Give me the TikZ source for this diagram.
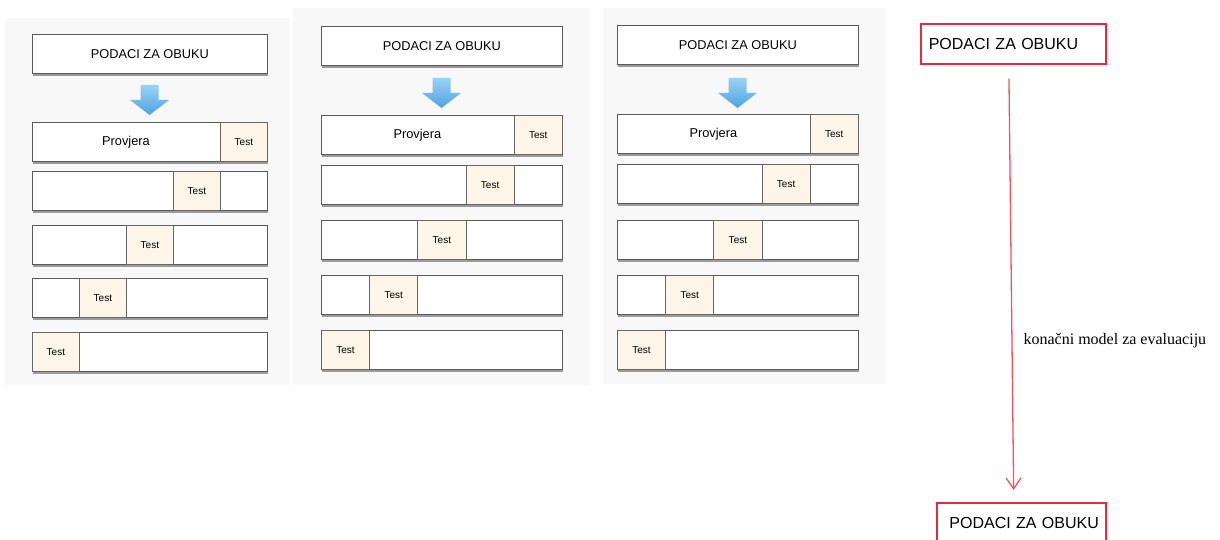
\documentclass[tikz,border=0pt]{standalone}
\usepackage{fontspec}
\setmainfont{Liberation Serif}
\setsansfont{Liberation Sans}
\usetikzlibrary{shadows,arrows.meta,positioning}

\definecolor{testcream}{HTML}{FDF6E8}
\definecolor{panelbg}{HTML}{F8F8F8}
\definecolor{kred}{HTML}{E8283C}
\definecolor{klinered}{HTML}{EA5565}
\definecolor{arrowtop}{HTML}{9AD2F4}
\definecolor{arrowbot}{HTML}{4DA3E2}

\tikzset{
  fold/.style={draw=black!65,line width=0.8pt,fill=white,minimum height=39pt,inner sep=0pt,anchor=north west,
    drop shadow={shadow xshift=0.6pt,shadow yshift=-2.6pt,opacity=0.5,fill=black!75}},
  testcell/.style={draw=black!60,line width=0.8pt,fill=testcream,minimum height=39pt,inner sep=0pt,anchor=north west,
    font=\sffamily\fontsize{10}{12}\selectfont},
  datatext/.style={font=\sffamily\fontsize{12.8}{15}\selectfont},
  redbox/.style={draw=kred,line width=1.6pt,anchor=north west,inner ysep=0pt,
    font=\sffamily\fontsize{16}{19}\selectfont},
  kline/.style={draw=klinered,line width=1.3pt,-{Straight Barb[length=11pt,width=15pt]}},
}

\begin{document}
\begin{tikzpicture}[x=1pt,y=-1pt]
\useasboundingbox (0,0) rectangle (1220,540);

% grey panels behind the three splits
\fill[panelbg] (5,18) rectangle (290,385);
\fill[panelbg] (293,8) rectangle (590,385);
\fill[panelbg] (603,8) rectangle (886,384);

\foreach \p/\L/\W/\D/\A/\ya/\yb/\yc/\yd/\ye in {
    a/32/235/34/85/122/171/225/278/332,
    b/321/241/26/78/115/165/220/275/330,
    c/617/241/25/78/114/164/220/275/330}{
  \node[fold,datatext,minimum width=\W pt] (\p-data) at (\L,\D) {PODACI ZA OBUKU};
  % blue arrow
  \shade[top color=arrowtop,bottom color=arrowbot]
    ({\L+\W/2-9},\A) -- ({\L+\W/2+9},\A) -- ({\L+\W/2+9},\A+15) -- ({\L+\W/2+19.5},\A+15)
    -- ({\L+\W/2},\A+30) -- ({\L+\W/2-19.5},\A+15) -- ({\L+\W/2-9},\A+15) -- cycle;
  \foreach \i/\y in {1/\ya,2/\yb,3/\yc,4/\yd,5/\ye}{
    \node[fold,minimum width=\W pt] (\p-r\i) at (\L,\y) {};
    \node[testcell,minimum width=\W pt/5] (\p-t\i) at ({\L+(5-\i)*\W/5},\y) {Test};
  }
  \node[datatext] (\p-prov) at ({\L+0.4*\W},\ya+20.5) {Provjera};
}

% right hand side
\node[redbox,minimum width=185pt,minimum height=40pt,text width=169pt,inner xsep=8pt,align=left] (train) at (920,23) {PODACI ZA OBUKU};
\node[redbox,minimum width=169pt,minimum height=40pt,text width=155pt,inner xsep=7pt,align=right] (final) at (936,502) {PODACI ZA OBUKU};
\draw[kline,shorten <=14pt,shorten >=12pt] ([xshift=-4.5pt]train.south) -- node[pos=0.63,anchor=west,xshift=11pt,inner sep=0pt,font=\fontsize{16}{19}\selectfont] (evalnote) {konačni model za evaluaciju} ([xshift=-7.5pt]final.north);
\end{tikzpicture}
\end{document}
